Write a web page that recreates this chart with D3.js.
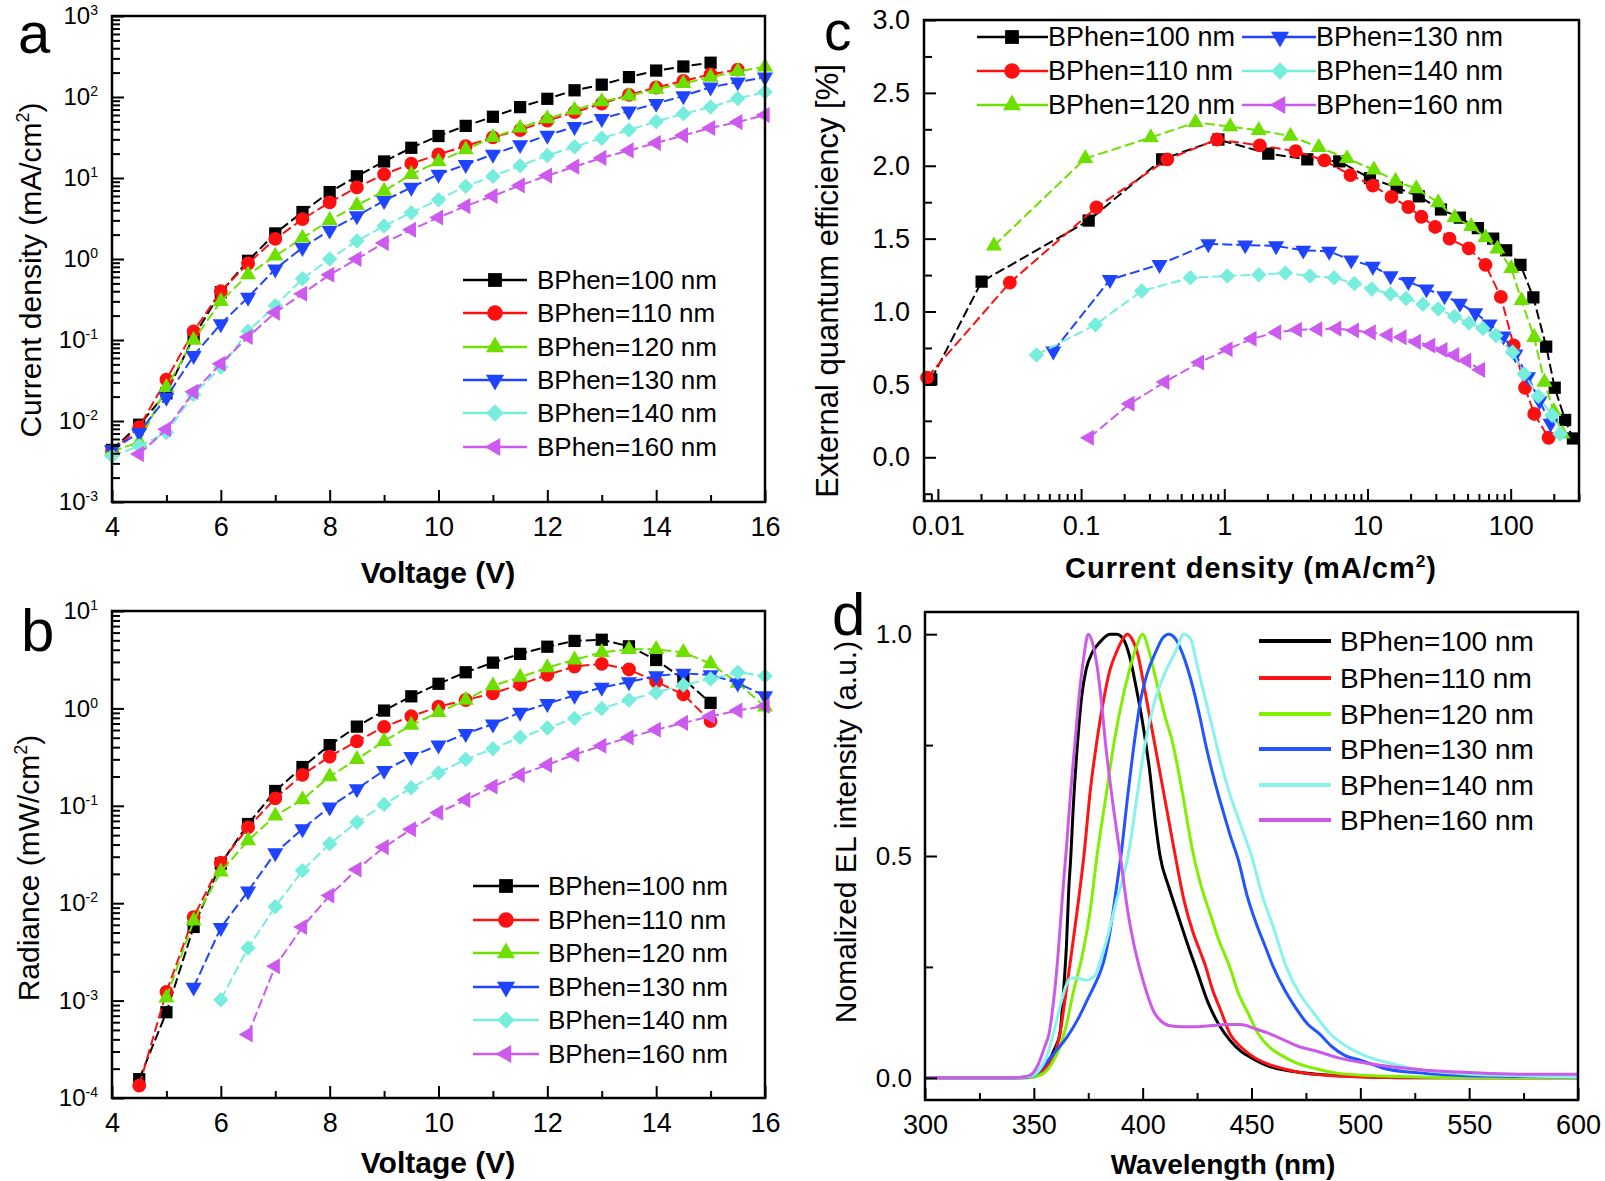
<!DOCTYPE html>
<html>
<head>
<meta charset="utf-8">
<script src="https://cdn.jsdelivr.net/npm/d3@7"></script>
<style>
body { margin: 0; background: #fff; }
svg text { font-family: Arial, "Liberation Sans", sans-serif; fill: #000; }
</style>
</head>
<body>
<div id="main"></div>
<script>
// ---- data ----
var names = ["BPhen=100 nm", "BPhen=110 nm", "BPhen=120 nm", "BPhen=130 nm", "BPhen=140 nm", "BPhen=160 nm"];
var symbols = ["square", "circle", "up", "down", "diamond", "left"];
var colors = ["#000000", "#ff1010", "#6ee000", "#1f44ff", "#77eedd", "#cc5aee"];
var specColors = ["#000000", "#ff1414", "#80f000", "#2255ff", "#88f2ec", "#cc5ae8"];

var voltage = [4, 4.5, 5, 5.5, 6, 6.5, 7, 7.5, 8, 8.5, 9, 9.5, 10, 10.5, 11, 11.5, 12, 12.5, 13, 13.5, 14, 14.5, 15, 15.5, 16];

// (a) current density, mA/cm2
var jBlack = [4.4e-3, 9e-3, 0.022, 0.11, 0.39, 0.95, 2.07, 3.8, 6.7, 10.5, 16, 23.6, 33, 44, 57, 75, 95, 121, 142, 176, 212, 238, 265, null, null];
var jRed = [4.2e-3, 8.4e-3, 0.0325, 0.128, 0.40, 0.88, 1.77, 3.1, 5.0, 7.65, 11.1, 15, 19.6, 24.8, 31.8, 39, 51, 65, 83, 106, 131, 158, 190, 218, null];
var jGreen = [4.2e-3, 5.5e-3, 0.026, 0.1, 0.30, 0.64, 1.09, 1.82, 3.0, 4.6, 6.9, 11.1, 15.9, 22.5, 31.8, 41.5, 54, 69, 88, 103, 125, 147, 176, 207, 236];
var jBlue = [4.4e-3, 7.2e-3, 0.0196, 0.064, 0.158, 0.336, 0.75, 1.38, 2.26, 3.4, 5.25, 7.65, 11.1, 14.6, 19.6, 25.7, 33.6, 43, 54, 67, 83, 103, 132, 153, 176];
var jCyan = [3.7e-3, 4.9e-3, 7.2e-3, 0.0213, 0.046, 0.128, 0.265, 0.57, 1.0, 1.67, 2.56, 3.73, 5.4, 7.9, 10.5, 14.2, 19, 24.3, 31, 39, 50, 62, 75, 96, 115];
var jMagenta = [null, 3.9e-3, 7.9e-3, 0.0229, 0.051, 0.109, 0.218, 0.373, 0.64, 1.0, 1.58, 2.3, 3.25, 4.5, 6.0, 8.1, 10.7, 13.8, 17.7, 21.9, 27, 33.6, 41.5, 49, 60];

// (b) radiance, mW/cm2
var rBlack = [null, 1.56e-4, 7.6e-4, 5.7e-3, 0.0255, 0.065, 0.142, 0.25, 0.42, 0.65, 0.95, 1.33, 1.79, 2.35, 2.95, 3.63, 4.3, 4.93, 5.07, 4.34, 3.14, 2.0, 1.14, null, null];
var rRed = [null, 1.34e-4, 1.23e-3, 7.2e-3, 0.026, 0.06, 0.119, 0.208, 0.32, 0.46, 0.645, 0.83, 1.04, 1.22, 1.43, 1.76, 2.21, 2.69, 2.87, 2.51, 1.88, 1.39, 0.74, null, null];
var rGreen = [null, null, 1.07e-3, 6.6e-3, 0.021, 0.044, 0.079, 0.116, 0.2, 0.30, 0.46, 0.675, 0.91, 1.22, 1.71, 2.09, 2.62, 3.16, 3.76, 4.04, 4.04, 3.76, 2.88, 1.82, 1.04];
var rBlue = [null, null, null, 1.37e-3, 5.6e-3, 0.0133, 0.0328, 0.058, 0.097, 0.149, 0.23, 0.32, 0.42, 0.55, 0.69, 0.91, 1.12, 1.36, 1.64, 1.87, 2.15, 2.29, 2.21, 1.82, 1.34];
var rCyan = [null, null, null, null, 1.02e-3, 3.47e-3, 9.2e-3, 0.0216, 0.0407, 0.0676, 0.103, 0.153, 0.217, 0.30, 0.385, 0.505, 0.63, 0.79, 1.0, 1.22, 1.46, 1.74, 2.0, 2.35, 2.15];
var rMagenta = [null, null, null, null, null, 4.5e-4, 2.25e-3, 5.7e-3, 0.012, 0.0222, 0.0376, 0.0575, 0.085, 0.115, 0.158, 0.208, 0.263, 0.336, 0.413, 0.504, 0.604, 0.71, 0.83, 0.95, 1.06];

// (c) EQE vs current density
var cBlackJ = [0.009, 0.0202, 0.113, 0.368, 0.91, 2.03, 3.8, 6.35, 10.4, 16, 22.8, 32.6, 44.2, 59, 75.5, 93, 117, 144, 177, 203, 240, 272];
var cBlackE = [0.534, 1.205, 1.624, 2.044, 2.18, 2.083, 2.044, 2.03, 1.915, 1.85, 1.79, 1.70, 1.644, 1.572, 1.50, 1.42, 1.32, 1.097, 0.759, 0.477, 0.256, 0.129];
var cRedJ = [0.0084, 0.0318, 0.128, 0.40, 0.89, 1.77, 3.15, 5.0, 7.6, 10.9, 14.7, 19.3, 23.8, 29.7, 37.4, 51, 66.7, 85.4, 105, 126, 146, 184];
var cRedE = [0.547, 1.198, 1.714, 2.044, 2.18, 2.14, 2.10, 2.037, 1.936, 1.864, 1.786, 1.717, 1.65, 1.58, 1.50, 1.433, 1.32, 1.10, 0.767, 0.477, 0.297, 0.134];
var cGreenJ = [0.0246, 0.107, 0.307, 0.63, 1.1, 1.74, 2.9, 4.57, 7.2, 11.1, 15.7, 21.9, 31.2, 40.6, 53, 66.7, 80.7, 101, 119, 146, 172, 200, 230];
var cGreenE = [1.45, 2.05, 2.194, 2.297, 2.269, 2.243, 2.204, 2.127, 2.05, 1.972, 1.895, 1.843, 1.748, 1.644, 1.585, 1.508, 1.43, 1.296, 1.076, 0.823, 0.516, 0.315, 0.16];
var cBlueJ = [0.064, 0.159, 0.353, 0.774, 1.4, 2.3, 3.56, 5.4, 7.7, 10.9, 14.5, 19.3, 25.8, 34.5, 44.2, 56.6, 71.3, 89, 108, 132, 159, 190];
var cBlueE = [0.728, 1.218, 1.322, 1.464, 1.456, 1.45, 1.42, 1.412, 1.353, 1.309, 1.244, 1.205, 1.154, 1.107, 1.056, 0.991, 0.914, 0.831, 0.707, 0.552, 0.387, 0.232];
var cCyanJ = [0.0488, 0.126, 0.265, 0.58, 1.05, 1.74, 2.67, 3.97, 5.85, 8.1, 10.7, 14.5, 18.6, 24.4, 31.2, 40.6, 51, 64, 78.7, 103, 124, 156, 195, 221];
var cCyanE = [0.702, 0.909, 1.141, 1.231, 1.244, 1.252, 1.265, 1.244, 1.231, 1.193, 1.154, 1.12, 1.089, 1.05, 1.017, 0.965, 0.921, 0.883, 0.836, 0.72, 0.573, 0.418, 0.289, 0.16];
var cMagentaJ = [0.114, 0.219, 0.384, 0.67, 1.06, 1.56, 2.32, 3.23, 4.49, 6.09, 8.1, 10.6, 13.9, 17.4, 21.9, 27.6, 33.6, 40.6, 49.2, 61.5];
var cMagentaE = [0.134, 0.367, 0.516, 0.65, 0.741, 0.813, 0.857, 0.875, 0.878, 0.883, 0.87, 0.857, 0.839, 0.823, 0.792, 0.767, 0.736, 0.702, 0.663, 0.6];

// (d) normalized EL spectra
var wlBlack = [300, 340, 350, 355, 360, 362, 364, 365, 366, 367, 368, 370, 372, 374, 377, 380, 385, 388, 391, 394, 397, 400, 403, 406, 408, 412, 416, 420, 425, 430, 435, 440, 445, 450, 458, 467, 480, 500, 520, 600];
var elBlack = [0, 0, 0.005, 0.025, 0.07, 0.1, 0.22, 0.3, 0.42, 0.5, 0.6, 0.75, 0.86, 0.92, 0.96, 0.98, 1.0, 1.0, 0.99, 0.95, 0.88, 0.8, 0.7, 0.57, 0.5, 0.43, 0.37, 0.31, 0.24, 0.17, 0.12, 0.085, 0.06, 0.045, 0.026, 0.016, 0.008, 0.003, 0, 0];
var wlRed = [300, 345, 350, 355, 360, 362, 365, 367, 370, 373, 376, 379, 382, 385, 388, 391, 393, 395, 398, 400, 403, 406, 409, 412, 415, 419, 423, 426, 429, 432, 436, 440, 445, 450, 458, 465, 475, 490, 510, 600];
var elRed = [0, 0, 0.003, 0.02, 0.06, 0.1, 0.2, 0.27, 0.38, 0.5, 0.65, 0.76, 0.85, 0.92, 0.96, 0.99, 1.0, 0.99, 0.95, 0.9, 0.82, 0.74, 0.66, 0.58, 0.5, 0.4, 0.33, 0.29, 0.25, 0.2, 0.15, 0.1, 0.07, 0.05, 0.03, 0.02, 0.01, 0.004, 0.001, 0];
var wlGreen = [300, 345, 350, 355, 358, 362, 365, 368, 372, 376, 379, 383, 387, 391, 394, 397, 400, 403, 406, 410, 414, 418, 423, 427, 431, 435, 440, 444, 448, 453, 458, 464, 470, 480, 490, 510, 540, 600];
var elGreen = [0, 0, 0.002, 0.012, 0.03, 0.07, 0.12, 0.19, 0.27, 0.38, 0.5, 0.63, 0.76, 0.86, 0.92, 0.97, 1.0, 0.96, 0.9, 0.82, 0.75, 0.65, 0.51, 0.43, 0.37, 0.31, 0.25, 0.19, 0.15, 0.1, 0.07, 0.05, 0.035, 0.02, 0.01, 0.004, 0.001, 0];
var wlBlue = [300, 345, 350, 355, 360, 365, 370, 375, 378, 382, 385, 388, 390, 393, 396, 399, 402, 406, 409, 412, 415, 418, 422, 426, 429, 433, 437, 440, 444, 448, 452, 456, 460, 465, 470, 476, 481, 487, 493, 500, 512, 530, 560, 600];
var elBlue = [0, 0, 0.005, 0.03, 0.06, 0.09, 0.13, 0.18, 0.21, 0.26, 0.33, 0.43, 0.5, 0.63, 0.75, 0.85, 0.91, 0.96, 0.99, 1.0, 0.99, 0.96, 0.9, 0.82, 0.75, 0.67, 0.6, 0.55, 0.49, 0.41, 0.35, 0.3, 0.25, 0.2, 0.16, 0.12, 0.1, 0.07, 0.05, 0.04, 0.02, 0.01, 0.004, 0.002];
var wlCyan = [300, 340, 348, 352, 356, 359, 362, 365, 367, 370, 374, 378, 381, 384, 388, 391, 394, 397, 401, 405, 410, 415, 419, 422, 425, 428, 432, 436, 440, 445, 450, 455, 460, 466, 472, 478, 486, 494, 502, 512, 525, 545, 570, 600];
var elCyan = [0, 0, 0.003, 0.015, 0.05, 0.1, 0.16, 0.21, 0.225, 0.225, 0.22, 0.23, 0.27, 0.32, 0.4, 0.45, 0.52, 0.62, 0.75, 0.84, 0.91, 0.96, 1.0, 0.99, 0.93, 0.87, 0.79, 0.71, 0.64, 0.57, 0.5, 0.41, 0.34, 0.25, 0.19, 0.15, 0.1, 0.07, 0.05, 0.035, 0.02, 0.01, 0.005, 0.002];
var wlMagenta = [300, 340, 348, 352, 355, 357, 359, 361, 363, 365, 367, 369, 371, 373, 375, 377, 379, 381, 383, 386, 390, 393, 396, 399, 402, 405, 408, 412, 418, 425, 432, 438, 445, 452, 458, 465, 472, 480, 490, 500, 510, 520, 530, 545, 560, 580, 600];
var elMagenta = [0, 0, 0.005, 0.03, 0.07, 0.1, 0.17, 0.27, 0.4, 0.52, 0.65, 0.76, 0.87, 0.95, 1.0, 0.98, 0.93, 0.85, 0.75, 0.63, 0.49, 0.38, 0.3, 0.24, 0.19, 0.15, 0.13, 0.118, 0.115, 0.115, 0.118, 0.12, 0.12, 0.11, 0.1, 0.085, 0.07, 0.06, 0.045, 0.035, 0.028, 0.022, 0.017, 0.013, 0.01, 0.008, 0.008];

// ---- setup ----
var svg = d3.select("#main")
  .append("svg")
    .attr("width", 1605)
    .attr("height", 1181);

function zipV(vals) {
  return voltage.map(function(v, i) { return {x: v, y: vals[i]}; });
}
function zipXY(xs, ys) {
  return xs.map(function(v, i) { return {x: v, y: ys[i]}; });
}

// marker shapes
function markerPath(type, size) {
  if (type == "square") return {d: d3.symbol(d3.symbolSquare, size)(), r: 0};
  if (type == "circle") return {d: d3.symbol(d3.symbolCircle, size)(), r: 0};
  if (type == "diamond") return {d: d3.symbol(d3.symbolSquare, size * 0.8)(), r: 45};
  var t = d3.symbol(d3.symbolTriangle, size * 0.75)();
  if (type == "up") return {d: t, r: 0};
  if (type == "down") return {d: t, r: 180};
  return {d: t, r: -90};
}

function isDecade(v) {
  var l = Math.log10(v);
  return Math.abs(l - Math.round(l)) < 1e-9;
}

// inward ticks, labels optional
function drawAxis(g, axisFn, scale, values, len, pad, fmt, fs, transform) {
  var ax = axisFn(scale).tickValues(values).tickSizeInner(-len).tickSizeOuter(0).tickPadding(pad);
  ax.tickFormat(fmt ? fmt : function() { return ""; });
  var a = g.append("g").attr("transform", transform).call(ax);
  a.select(".domain").remove();
  a.attr("font-family", null).attr("font-size", fs);
  a.selectAll("line").attr("stroke", "#000").attr("stroke-width", 2);
  a.selectAll("text").attr("fill", "#000");
  return a;
}

function frame(p) {
  svg.append("rect")
    .attr("x", p.x0).attr("y", p.y0)
    .attr("width", p.x1 - p.x0).attr("height", p.y1 - p.y0)
    .attr("fill", "none").attr("stroke", "#000").attr("stroke-width", 2.5);
}

function powLabels(a) {
  a.selectAll("text").each(function(d) {
    if (!isDecade(d)) return;
    var t = d3.select(this);
    t.text("10");
    t.append("tspan").attr("dy", -9).attr("font-size", 14).text(Math.round(Math.log10(d)));
  });
}

function addTitle(x, y, rot, size, bold, parts, spacing) {
  var t = svg.append("text")
    .attr("transform", "translate(" + x + "," + y + ")" + (rot ? "rotate(-90)" : ""))
    .attr("text-anchor", "middle")
    .attr("dy", "0.35em")
    .attr("font-size", size)
    .attr("font-weight", bold ? "bold" : "normal");
  if (spacing) t.attr("letter-spacing", spacing);
  parts.forEach(function(p) {
    var s = t.append("tspan").text(p.t);
    if (p.sup) s.attr("dy", -size * 0.38).attr("font-size", size * 0.6);
    if (p.after) s.attr("dy", size * 0.38);
  });
}

function panelLabel(txt, x, y, fs) {
  svg.append("text").attr("x", x).attr("y", y).attr("font-size", fs).text(txt);
}

function drawSeries(g, x, y, data, i, dash) {
  var line = d3.line()
    .defined(function(d) { return d.y != null; })
    .x(function(d) { return x(d.x); })
    .y(function(d) { return y(d.y); });
  g.append("path")
    .datum(data)
    .attr("d", line)
    .attr("fill", "none")
    .attr("stroke", colors[i])
    .attr("stroke-width", 2)
    .attr("stroke-dasharray", dash);
  var m = markerPath(symbols[i], 150);
  g.selectAll(".m" + i)
    .data(data.filter(function(d) { return d.y != null; }))
    .enter().append("path")
    .attr("d", m.d)
    .attr("transform", function(d) { return "translate(" + x(d.x) + "," + y(d.y) + ") rotate(" + m.r + ")"; })
    .attr("fill", colors[i]);
}

function legendRow(x1, x2, mx, tx, y, i, fs, lineW, withMarker, col) {
  svg.append("line").attr("x1", x1).attr("x2", x2).attr("y1", y).attr("y2", y)
    .attr("stroke", col).attr("stroke-width", lineW);
  if (withMarker) {
    var m = markerPath(symbols[i], 190);
    svg.append("path").attr("d", m.d)
      .attr("transform", "translate(" + mx + "," + y + ") rotate(" + m.r + ")")
      .attr("fill", col);
  }
  svg.append("text").attr("x", tx).attr("y", y).attr("dy", "0.35em")
    .attr("font-size", fs).text(names[i]);
}

var dash = "10,4";
var vTicks = [4, 6, 8, 10, 12, 14, 16];
var vMinor = [5, 7, 9, 11, 13, 15];

// ---- panel a ----
var pa = {x0: 112, x1: 765, y0: 16, y1: 502};
var xa = d3.scaleLinear().domain([4, 16]).range([pa.x0, pa.x1]);
var ya = d3.scaleLog().domain([1e-3, 1e3]).range([pa.y1, pa.y0]);
var ga = svg.append("g");
[jBlack, jRed, jGreen, jBlue, jCyan, jMagenta].forEach(function(s, i) {
  drawSeries(ga, xa, ya, zipV(s), i, dash);
});
frame(pa);
drawAxis(svg, d3.axisBottom, xa, vTicks, 12, 15, d3.format("d"), 27, "translate(0," + pa.y1 + ")");
drawAxis(svg, d3.axisBottom, xa, vMinor, 7, 15, null, 27, "translate(0," + pa.y1 + ")");
var aT = ya.ticks();
powLabels(drawAxis(svg, d3.axisLeft, ya, aT.filter(isDecade), 12, 14, function(d) { return d; }, 24, "translate(" + pa.x0 + ",0)"));
drawAxis(svg, d3.axisLeft, ya, aT.filter(function(d) { return !isDecade(d); }), 8, 14, null, 24, "translate(" + pa.x0 + ",0)");
addTitle(30, 270, true, 30, false, [{t: "Current density (mA/cm"}, {t: "2", sup: true}, {t: ")", after: true}]);
addTitle(438, 572, false, 30, true, [{t: "Voltage (V)"}]);
panelLabel("a", 18, 53, 58);
[280, 313, 347, 380, 413, 447].forEach(function(yy, i) {
  legendRow(463, 527, 495, 537, yy, i, 26, 2.5, true, colors[i]);
});

// ---- panel b ----
var pb = {x0: 112, x1: 765, y0: 611, y1: 1098};
var xb = d3.scaleLinear().domain([4, 16]).range([pb.x0, pb.x1]);
var yb = d3.scaleLog().domain([1e-4, 10]).range([pb.y1, pb.y0]);
var gb = svg.append("g");
[rBlack, rRed, rGreen, rBlue, rCyan, rMagenta].forEach(function(s, i) {
  drawSeries(gb, xb, yb, zipV(s), i, dash);
});
frame(pb);
drawAxis(svg, d3.axisBottom, xb, vTicks, 12, 15, d3.format("d"), 27, "translate(0," + pb.y1 + ")");
drawAxis(svg, d3.axisBottom, xb, vMinor, 7, 15, null, 27, "translate(0," + pb.y1 + ")");
var bT = yb.ticks();
powLabels(drawAxis(svg, d3.axisLeft, yb, bT.filter(isDecade), 12, 14, function(d) { return d; }, 24, "translate(" + pb.x0 + ",0)"));
drawAxis(svg, d3.axisLeft, yb, bT.filter(function(d) { return !isDecade(d); }), 8, 14, null, 24, "translate(" + pb.x0 + ",0)");
addTitle(28, 868, true, 30, false, [{t: "Radiance (mW/cm"}, {t: "2", sup: true}, {t: ")", after: true}]);
addTitle(438, 1162, false, 30, true, [{t: "Voltage (V)"}]);
panelLabel("b", 21, 651, 60);
[886, 920, 953, 987, 1020, 1054].forEach(function(yy, i) {
  legendRow(473, 539, 506, 548, yy, i, 26, 2.5, true, colors[i]);
});

// ---- panel c ----
var pc = {x0: 924, x1: 1579, y0: 20, y1: 501};
var xc = d3.scaleLog().domain([0.008, 300]).range([pc.x0, pc.x1]);
var yc = d3.scaleLinear().domain([-0.3, 3.0]).range([pc.y1, pc.y0]);
var gc = svg.append("g");
[[cBlackJ, cBlackE], [cRedJ, cRedE], [cGreenJ, cGreenE], [cBlueJ, cBlueE], [cCyanJ, cCyanE], [cMagentaJ, cMagentaE]].forEach(function(s, i) {
  drawSeries(gc, xc, yc, zipXY(s[0], s[1]), i, dash);
});
frame(pc);
var cT = xc.ticks();
drawAxis(svg, d3.axisBottom, xc, cT.filter(isDecade), 12, 15, function(d) { return d >= 1 ? d3.format("d")(d) : String(+d.toFixed(2)); }, 27, "translate(0," + pc.y1 + ")");
drawAxis(svg, d3.axisBottom, xc, cT.filter(function(d) { return !isDecade(d); }), 7, 15, null, 27, "translate(0," + pc.y1 + ")");
drawAxis(svg, d3.axisLeft, yc, [0, 0.5, 1.0, 1.5, 2.0, 2.5, 3.0], 12, 14, d3.format(".1f"), 27, "translate(" + pc.x0 + ",0)");
drawAxis(svg, d3.axisLeft, yc, [-0.25, 0.25, 0.75, 1.25, 1.75, 2.25, 2.75], 8, 14, null, 27, "translate(" + pc.x0 + ",0)");
addTitle(827, 281, true, 31, false, [{t: "External quantum efficiency [%]"}]);
addTitle(1251, 568, false, 29, true, [{t: "Current density (mA/cm"}, {t: "2", sup: true}, {t: ")", after: true}], 1);
panelLabel("c", 824, 50, 55);
[37, 71, 105].forEach(function(yy, r) {
  legendRow(977, 1048, 1012, 1048, yy, r, 27, 2.5, true, colors[r]);
  legendRow(1242, 1316, 1280, 1316, yy, r + 3, 27, 2.5, true, colors[r + 3]);
});

// ---- panel d ----
var pd = {x0: 925, x1: 1578, y0: 612, y1: 1100};
var xd = d3.scaleLinear().domain([300, 600]).range([pd.x0, pd.x1]);
var yd = d3.scaleLinear().domain([-0.05, 1.05]).range([pd.y1, pd.y0]);
var gd = svg.append("g");
var spec = d3.line().x(function(d) { return xd(d.x); }).y(function(d) { return yd(d.y); }).curve(d3.curveMonotoneX);
[[wlBlack, elBlack], [wlRed, elRed], [wlGreen, elGreen], [wlBlue, elBlue], [wlCyan, elCyan], [wlMagenta, elMagenta]].forEach(function(s, i) {
  gd.append("path")
    .datum(zipXY(s[0], s[1]))
    .attr("d", spec)
    .attr("fill", "none")
    .attr("stroke", specColors[i])
    .attr("stroke-width", 3);
});
frame(pd);
drawAxis(svg, d3.axisBottom, xd, [300, 350, 400, 450, 500, 550, 600], 12, 15, d3.format("d"), 27, "translate(0," + pd.y1 + ")");
drawAxis(svg, d3.axisBottom, xd, [325, 375, 425, 475, 525, 575], 7, 15, null, 27, "translate(0," + pd.y1 + ")");
drawAxis(svg, d3.axisLeft, yd, [0, 0.5, 1.0], 12, 13, d3.format(".1f"), 26, "translate(" + pd.x0 + ",0)");
drawAxis(svg, d3.axisLeft, yd, [0.25, 0.75], 8, 13, null, 26, "translate(" + pd.x0 + ",0)");
addTitle(845, 832, true, 30, false, [{t: "Nomalized EL intensity (a.u.)"}]);
addTitle(1223, 1164, false, 28, true, [{t: "Wavelength (nm)"}]);
panelLabel("d", 832, 635, 60);
[641, 678, 714, 749, 785, 820].forEach(function(yy, i) {
  legendRow(1259, 1331, 0, 1340, yy, i, 28, 4, false, specColors[i]);
});
</script>
</body>
</html>
